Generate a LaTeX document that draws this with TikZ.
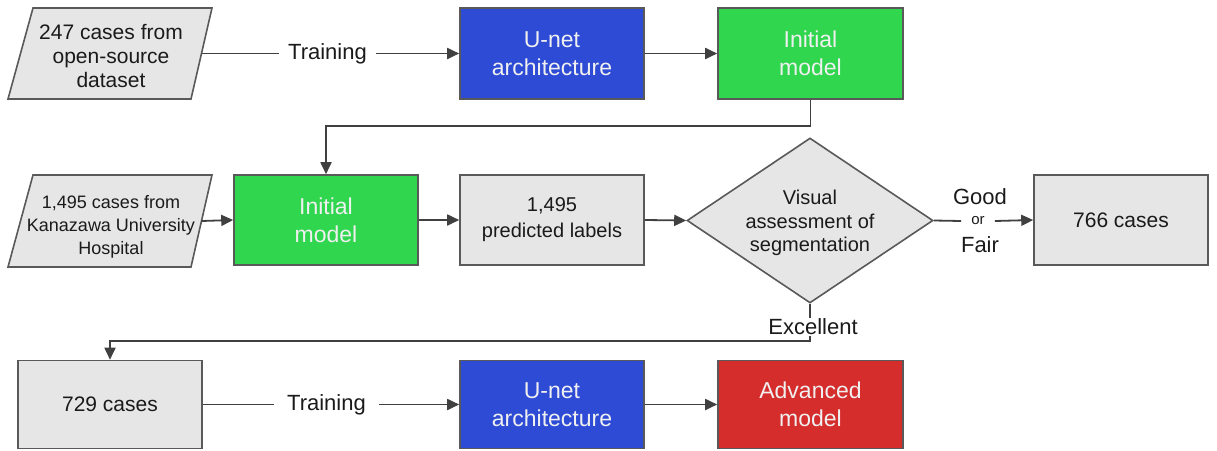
\documentclass[tikz,border=0pt]{standalone}
\usepackage{fontspec}
\setmainfont{Liberation Sans}
\usetikzlibrary{arrows.meta,shapes.geometric}
\definecolor{boxgray}{HTML}{E6E6E6}
\definecolor{edgegray}{HTML}{595959}
\definecolor{linegray}{HTML}{404040}
\definecolor{textblack}{HTML}{1A1A1A}
\definecolor{unetblue}{HTML}{2E4BD6}
\definecolor{initgreen}{HTML}{2FD64E}
\definecolor{advred}{HTML}{D52C2C}
\definecolor{offwhite}{HTML}{F0F0F0}
\begin{document}
\begin{tikzpicture}[x=1pt,y=-1pt,
  box/.style={draw=edgegray, line width=1.6pt, minimum width=184pt, minimum height=90pt, inner sep=0pt, align=center},
  graybox/.style={box, fill=boxgray, text=textblack, font=\fontsize{21}{25}\selectfont},
  bluebox/.style={box, fill=unetblue, text=offwhite, font=\fontsize{23}{28}\selectfont},
  greenbox/.style={box, fill=initgreen, text=offwhite, font=\fontsize{23}{28}\selectfont},
  redbox/.style={box, fill=advred, text=offwhite, font=\fontsize{23}{28}\selectfont},
  datashape/.style={draw=edgegray, line width=1.6pt, fill=boxgray},
  datatext/.style={text=textblack, align=center, inner sep=0pt},
  conn/.style={draw=linegray, line width=1.8pt},
  arr/.style={conn, -{Triangle[length=12pt,width=11pt]}},
  lbl/.style={text=textblack, font=\fontsize{22}{26}\selectfont, inner ysep=2pt}]
\useasboundingbox (0,0) rectangle (1217,450);

% ---- row 1
\path[datashape] (33,8) -- (212,8) -- (191,99) -- (8,99) -- cycle;
\node[datatext, font=\fontsize{21}{24}\selectfont] (d1) at (111,56) {247 cases from\\open-source\\dataset};
\coordinate (d1r) at (201.5,53.5);
\node[bluebox, minimum height=91pt] (u1) at (552,53.5) {U-net\\architecture};
\node[greenbox, minimum width=185pt, minimum height=91pt] (i1) at (810.5,53.5) {Initial\\model};
\node[lbl, inner xsep=9pt] (t1) at (327.5,53.5) {Training};

% ---- row 2
\path[datashape] (33,175) -- (212,175) -- (191,267) -- (8,267) -- cycle;
\node[datatext, font=\fontsize{18}{23}\selectfont] (d2) at (111,227) {1,495 cases from\\Kanazawa University\\Hospital};
\coordinate (d2r) at (201.5,221);
\node[greenbox] (i2) at (326,220) {Initial\\model};
\node[graybox, font=\fontsize{20}{26}\selectfont] (p) at (552,220) {1,495\\predicted labels};
\node[diamond, draw=edgegray, line width=1.6pt, fill=boxgray, minimum width=246pt, minimum height=165pt, inner sep=0pt] (v) at (810,220.5) {};
\node[datatext, font=\fontsize{20}{23.5}\selectfont] (vt) at (810,223) {Visual\\assessment of\\segmentation};
\node[graybox, minimum width=174pt] (c766) at (1121,220) {766 cases};
\node[text=textblack, font=\fontsize{15}{17}\selectfont, inner xsep=10pt, inner ysep=1pt] (or) at (978,221) {or};
\node[lbl, inner sep=0pt] (good) at (980,197) {Good};
\node[lbl, inner sep=0pt] (fair) at (980,245) {Fair};

% ---- row 3
\node[graybox, minimum height=88pt] (c729) at (110,404.5) {729 cases};
\node[bluebox, minimum height=88pt] (u2) at (552,404.5) {U-net\\architecture};
\node[redbox, minimum width=185pt, minimum height=88pt] (adv) at (810.5,404.5) {Advanced\\model};
\node[lbl, inner xsep=13pt] (t2) at (326.5,404.5) {Training};

% ---- connectors
\draw[conn] (d1r) -- (t1.west);
\draw[arr] (t1.east) -- (u1.west);
\draw[arr] (u1.east) -- (i1.west);
\draw[arr] (i1.south) -- (810.5,126) -| (i2.north);
\draw[arr] (d2r) -- (i2.west);
\draw[arr] (i2.east) -- (p.west);
\draw[arr] (p.east) -- (v.west);
\draw[conn] (v.east) -- (or.west);
\draw[arr] (or.east) -- (c766.west);
\draw[arr] (v.south) -- (810,341) -| (c729.north);
\node[lbl, fill=white, inner sep=1pt] (exc) at (813,327) {Excellent};
\draw[conn] (c729.east) -- (t2.west);
\draw[arr] (t2.east) -- (u2.west);
\draw[arr] (u2.east) -- (adv.west);
\end{tikzpicture}
\end{document}
